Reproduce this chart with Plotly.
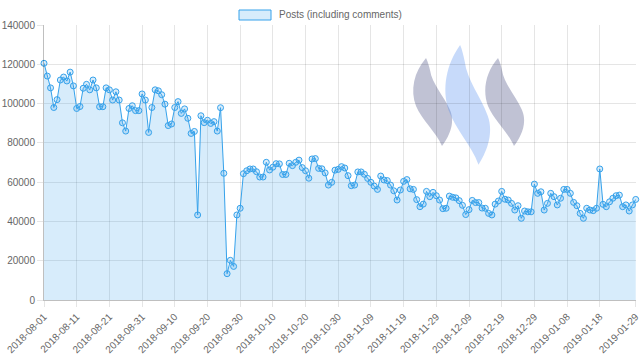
import pandas as pd
import plotly.graph_objects as go

start_date = "2018-08-01"
posts = [
    120500, 114000, 108000, 98000, 102000, 112000, 113500, 111500, 116000, 109000,
    97500, 98500, 107800, 109800, 107000, 112000, 108000, 98400, 98400, 108000,
    107000, 101800, 106000, 101800, 90200, 86000, 97500, 98900, 96400, 96400,
    104900, 101800, 85300, 98000, 107000, 106500, 104500, 99700, 88800, 89600,
    98000, 101000, 95000, 97300, 92500, 84800, 85800, 43300, 93800, 90300,
    91500, 89900, 90800, 86000, 97900, 64500, 13400, 20200, 17100, 43300,
    46700, 64300, 65800, 66700, 66700, 65300, 62600, 62600, 70100, 66200,
    67600, 69400, 69300, 63900, 63900, 69600, 68400, 70100, 71200, 67400,
    65800, 62000, 71800, 72000, 67000, 66800, 64700, 58500, 59900, 66100,
    66500, 67900, 67200, 63300, 58200, 58500, 65200, 65200, 64000, 61900,
    59900, 58000, 56300, 63100, 61100, 60800, 58500, 55600, 50900, 56000,
    60400, 61300, 56600, 56300, 51100, 47500, 48800, 55300, 52600, 54800,
    53100, 50900, 46500, 46700, 52900, 52300, 52000, 50600, 48200, 43500,
    46000, 50700, 49600, 49600, 46800, 46700, 44100, 43300, 48800, 50400,
    55300, 51300, 50900, 49200, 45800, 48000, 41600, 45300, 44900, 44900,
    59000, 54300, 55100, 45800, 49200, 54300, 52600, 48400, 51800, 56300,
    56300, 54300, 49700, 48000, 44100, 41600, 46700, 45800, 45500, 46700,
    66700, 48700, 47500, 50000, 51800, 53100, 53400, 47500, 48400, 45300,
    48400, 51200,
]
tick_labels = [
    "2018-08-01", "2018-08-11", "2018-08-21", "2018-08-31", "2018-09-10",
    "2018-09-20", "2018-09-30", "2018-10-10", "2018-10-20", "2018-10-30",
    "2018-11-09", "2018-11-19", "2018-11-29", "2018-12-09", "2018-12-19",
    "2018-12-29", "2019-01-08", "2019-01-18", "2019-01-29",
]
y_ticks = [0, 20000, 40000, 60000, 80000, 100000, 120000, 140000]
series_name = "Posts (including comments)"

dates = pd.date_range(start_date, periods=len(posts), freq="D")

LINE = "rgb(54,162,235)"
FILL = "rgba(54,162,235,0.2)"
GRID = "rgba(0,0,0,0.1)"
FONT = "Liberation Sans, Arial, sans-serif"

fig = go.Figure()
fig.add_trace(go.Scatter(
    x=dates, y=posts, mode="lines+markers", name=series_name,
    line=dict(color=LINE, width=1),
    fill="tozeroy", fillcolor=FILL,
    marker=dict(size=6, color=FILL, line=dict(color=LINE, width=1)),
    showlegend=False, cliponaxis=False, hoverinfo="skip",
))

# plot-area geometry (pixels) for decorative elements
L, R, T, B = 44, 636, 25, 300
W, H = 640, 361

def px(x, y):
    return (x - L) / (R - L), (B - y) / (B - T)

def path(pts):
    out = []
    for cmd, coords in pts:
        s = " ".join("%.4f,%.4f" % px(*c) for c in coords)
        out.append(cmd + " " + s)
    return " ".join(out) + " Z"

def swoosh(dx, dy, sx=1.0, sy=1.0):
    def p(x, y):
        return (dx + x * sx, dy + y * sy)
    return [
        ("M", [p(14, 0)]),
        ("C", [p(2, 14), p(-2, 32), p(4, 48)]),
        ("C", [p(10, 62), p(24, 74), p(30, 88)]),
        ("C", [p(36, 80), p(44, 66), p(38, 52)]),
        ("C", [p(32, 38), p(20, 26), p(18, 12)]),
        ("C", [p(17, 8), p(16, 4), p(14, 0)]),
    ]

shapes = [
    dict(type="path", xref="paper", yref="paper", layer="below",
         path=path(swoosh(412, 58)), fillcolor="rgba(60,65,120,0.32)", line=dict(width=0)),
    dict(type="path", xref="paper", yref="paper", layer="below",
         path=path(swoosh(444, 45, 1.15, 1.36)), fillcolor="rgba(80,140,240,0.32)", line=dict(width=0)),
    dict(type="path", xref="paper", yref="paper", layer="below",
         path=path(swoosh(484, 58)), fillcolor="rgba(60,65,120,0.32)", line=dict(width=0)),
    # legend box
    dict(type="rect", xref="paper", yref="paper",
         x0=px(239, 0)[0], x1=px(271, 0)[0], y0=px(0, 20)[1], y1=px(0, 10)[1],
         fillcolor=FILL, line=dict(color=LINE, width=1)),
]

fig.update_layout(
    width=W, height=H,
    margin=dict(l=L, r=W - R, t=T, b=H - B, autoexpand=False),
    paper_bgcolor="white", plot_bgcolor="white",
    font=dict(family=FONT, size=10, color="#666"),
    shapes=shapes,
    hovermode=False,
    annotations=[dict(
        text=series_name, xref="paper", yref="paper",
        x=px(277, 0)[0], y=px(0, 15)[1], xanchor="left", yanchor="middle",
        showarrow=False, font=dict(family=FONT, size=10, color="#666"),
    )],
    xaxis=dict(
        type="date",
        range=[dates[0], dates[-1] + pd.Timedelta(hours=2)],
        tickmode="array",
        tickvals=pd.to_datetime(tick_labels),
        ticktext=tick_labels,
        tickangle=-45,
        ticklabeloverflow="allow",
        automargin=False,
        showgrid=True, gridcolor=GRID, gridwidth=1,
        ticks="outside", ticklen=6, tickcolor=GRID,
        showline=True, linecolor="rgba(0,0,0,0.25)", linewidth=1,
        tickfont=dict(size=10, color="#666"),
        zeroline=False,
    ),
    yaxis=dict(
        range=[0, 140000],
        tickmode="array", tickvals=y_ticks,
        ticktext=[str(v) for v in y_ticks],
        automargin=False,
        showgrid=True, gridcolor=GRID, gridwidth=1,
        ticks="outside", ticklen=6, tickcolor=GRID,
        showline=True, linecolor="rgba(0,0,0,0.25)", linewidth=1,
        zeroline=False,
        tickfont=dict(size=10, color="#666"),
    ),
)

fig.write_html(
    "out.html",
    config={"displayModeBar": False},
    post_script="document.body.style.margin='0';document.body.style.overflow='hidden';",
)
